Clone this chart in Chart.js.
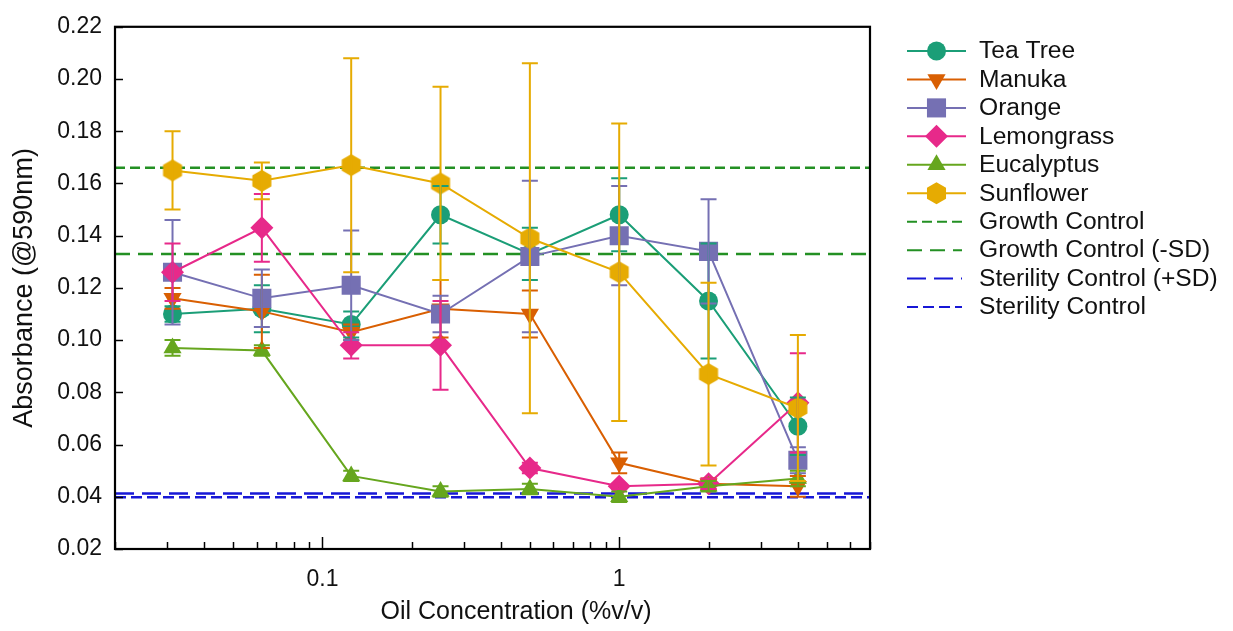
<!DOCTYPE html>
<html><head><meta charset="utf-8">
<script src="https://cdn.jsdelivr.net/npm/chart.js@4/dist/chart.umd.min.js"></script>
<style>html,body{margin:0;padding:0;background:#fff;}#wrap{width:1233px;height:631px;position:relative;}</style>
</head><body><div id="wrap"><canvas id="c" width="1233" height="631"></canvas></div>
<script>
// ---- data ----
const concentrations = [0.03125, 0.0625, 0.125, 0.25, 0.5, 1, 2, 4];
const teaTree      = [0.110, 0.112, 0.106, 0.148, 0.133, 0.148, 0.115, 0.067];
const teaTreeSD    = [0.003, 0.009, 0.005, 0.011, 0.010, 0.014, 0.022, 0.011];
const manuka       = [0.116, 0.111, 0.103, 0.112, 0.110, 0.053, 0.045, 0.044];
const manukaSD     = [0.004, 0.014, 0.003, 0.011, 0.009, 0.004, 0.002, 0.004];
const orange       = [0.126, 0.116, 0.121, 0.110, 0.132, 0.140, 0.134, 0.054];
const orangeSD     = [0.020, 0.011, 0.021, 0.007, 0.029, 0.019, 0.020, 0.005];
const lemongrass   = [0.126, 0.143, 0.098, 0.098, 0.051, 0.044, 0.045, 0.076];
const lemongrassSD = [0.011, 0.013, 0.005, 0.017, 0.002, 0.001, 0.002, 0.019];
const eucalyptus   = [0.097, 0.096, 0.048, 0.042, 0.043, 0.040, 0.044, 0.047];
const eucalyptusSD = [0.003, 0.002, 0.002, 0.002, 0.002, 0.002, 0.002, 0.003];
const sunflower    = [0.165, 0.161, 0.167, 0.160, 0.139, 0.126, 0.087, 0.074];
const sunflowerSD  = [0.015, 0.007, 0.041, 0.037, 0.067, 0.057, 0.035, 0.028];
const growthControl = 0.166;
const growthControlMinusSD = 0.133;
const sterilityControlPlusSD = 0.0413;
const sterilityControl = 0.0398;
const xRange = [0.02, 7];
const yRange = [0.02, 0.22];
const yTickValues = [0.02, 0.04, 0.06, 0.08, 0.10, 0.12, 0.14, 0.16, 0.18, 0.20, 0.22];
const xTickValues = [0.02,0.03,0.04,0.05,0.06,0.07,0.08,0.09,0.1,0.2,0.3,0.4,0.5,0.6,0.7,0.8,0.9,1,2,3,4,5,6,7];
const xLabelValues = [0.1, 1];
const xTickLabels = ['0.1', '1'];
const xTitle = 'Oil Concentration (%v/v)';
const yTitle = 'Absorbance (@590nm)';

// ---- styles ----
const FONT = "'Liberation Sans', Arial, sans-serif";
Chart.defaults.font.family = FONT;
Chart.defaults.color = '#111';

function hexagonImage(color, r) {
  const s = Math.ceil(r * 2 + 2);
  const cv = document.createElement('canvas');
  cv.width = s; cv.height = s;
  const g = cv.getContext('2d');
  g.fillStyle = color;
  g.beginPath();
  for (let k = 0; k < 6; k++) {
    const a = -Math.PI / 2 + k * Math.PI / 3;
    const px = s / 2 + r * Math.cos(a), py = s / 2 + r * Math.sin(a);
    k ? g.lineTo(px, py) : g.moveTo(px, py);
  }
  g.closePath(); g.fill();
  return cv;
}

const seriesDefs = [
  {label: 'Tea Tree',   values: teaTree,    sd: teaTreeSD,    color: '#1b9e77', style: 'circle',   radius: 9.5, rotation: 0},
  {label: 'Manuka',     values: manuka,     sd: manukaSD,     color: '#d95f02', style: 'triangle', radius: 10.5, rotation: 180},
  {label: 'Orange',     values: orange,     sd: orangeSD,     color: '#7570b3', style: 'rect',     radius: 13.5, rotation: 0},
  {label: 'Lemongrass', values: lemongrass, sd: lemongrassSD, color: '#e7298a', style: 'rectRot',  radius: 11.5, rotation: 0},
  {label: 'Eucalyptus', values: eucalyptus, sd: eucalyptusSD, color: '#66a61e', style: 'triangle', radius: 10.5, rotation: 0},
  {label: 'Sunflower',  values: sunflower,  sd: sunflowerSD,  color: '#e6ab02', style: 'hexagon',  radius: 11, rotation: 0}
];
const controlDefs = [
  {label: 'Growth Control',          value: growthControl,          color: '#239023', dash: [10, 5]},
  {label: 'Growth Control (-SD)',    value: growthControlMinusSD,   color: '#239023', dash: [15, 8]},
  {label: 'Sterility Control (+SD)', value: sterilityControlPlusSD, color: '#1717d6', dash: [19, 8]},
  {label: 'Sterility Control',       value: sterilityControl,       color: '#1717d6', dash: [11, 5]}
];

const datasets = [];
seriesDefs.forEach((s, i) => {
  const ps = s.style === 'hexagon' ? hexagonImage(s.color, s.radius) : s.style;
  datasets.push({
    label: s.label,
    data: concentrations.map((x, j) => ({x: x, y: s.values[j]})),
    borderColor: s.color, backgroundColor: s.color,
    borderWidth: 2, tension: 0, fill: false,
    pointStyle: ps, pointRadius: s.radius, pointRotation: s.rotation,
    pointBackgroundColor: s.color, pointBorderWidth: 0, pointHoverRadius: s.radius,
    order: 10 - i
  });
});
controlDefs.forEach(c => {
  datasets.push({
    label: c.label,
    data: [{x: xRange[0], y: c.value}, {x: xRange[1], y: c.value}],
    borderColor: c.color, borderWidth: 2.5, borderDash: c.dash,
    pointRadius: 0, fill: false, order: 20
  });
});

const errorBarPlugin = {
  id: 'errorBars',
  afterDatasetsDraw(chart) {
    const ctx = chart.ctx, xs = chart.scales.x, ys = chart.scales.y;
    ctx.save();
    ctx.beginPath();
    ctx.rect(chart.chartArea.left, chart.chartArea.top, chart.chartArea.width, chart.chartArea.height);
    ctx.clip();
    seriesDefs.forEach(s => {
      ctx.strokeStyle = s.color; ctx.lineWidth = 2;
      concentrations.forEach((x, j) => {
        const px = xs.getPixelForValue(x);
        const yt = ys.getPixelForValue(s.values[j] + s.sd[j]);
        const yb = ys.getPixelForValue(s.values[j] - s.sd[j]);
        ctx.beginPath();
        ctx.moveTo(px, yt); ctx.lineTo(px, yb);
        ctx.moveTo(px - 8, yt); ctx.lineTo(px + 8, yt);
        ctx.moveTo(px - 8, yb); ctx.lineTo(px + 8, yb);
        ctx.stroke();
      });
    });
    ctx.restore();
  }
};

const frameTicksPlugin = {
  id: 'frameTicks',
  afterDraw(chart) {
    const ctx = chart.ctx, a = chart.chartArea, xs = chart.scales.x, ys = chart.scales.y;
    ctx.save();
    ctx.strokeStyle = '#000';
    ctx.lineWidth = 1.5;
    ys.ticks.forEach(t => {
      const py = Math.round(ys.getPixelForValue(t.value)) + 0.5;
      ctx.beginPath(); ctx.moveTo(a.left, py); ctx.lineTo(a.left + 8, py); ctx.stroke();
    });
    xs.ticks.forEach(t => {
      const px = Math.round(xs.getPixelForValue(t.value)) + 0.5;
      const len = xLabelValues.includes(t.value) ? 12 : 7;
      ctx.beginPath(); ctx.moveTo(px, a.bottom); ctx.lineTo(px, a.bottom - len); ctx.stroke();
    });
    ctx.lineWidth = 2.2;
    ctx.strokeRect(a.left, a.top, a.right - a.left, a.bottom - a.top);
    // x-axis title (placed as in the reference, right of the plot centre)
    ctx.fillStyle = '#111';
    ctx.font = "25px " + FONT;
    ctx.textAlign = 'center';
    ctx.textBaseline = 'middle';
    ctx.fillText(xTitle, 516, 612);
    ctx.restore();
  }
};

function drawMarker(ctx, s, x, y) {
  ctx.fillStyle = s.color;
  const r = s.radius;
  ctx.beginPath();
  if (s.style === 'circle') {
    ctx.arc(x, y, r, 0, Math.PI * 2);
  } else if (s.style === 'triangle') {
    const rot = s.rotation * Math.PI / 180;
    for (let k = 0; k < 3; k++) {
      const ang = rot + k * 2 * Math.PI / 3;
      const px = x + Math.sin(ang) * r, py = y - Math.cos(ang) * r;
      k ? ctx.lineTo(px, py) : ctx.moveTo(px, py);
    }
  } else if (s.style === 'rect') {
    const h = Math.SQRT1_2 * r;
    ctx.rect(x - h, y - h, 2 * h, 2 * h);
  } else if (s.style === 'rectRot') {
    ctx.moveTo(x - r, y); ctx.lineTo(x, y - r); ctx.lineTo(x + r, y); ctx.lineTo(x, y + r);
  } else if (s.style === 'hexagon') {
    for (let k = 0; k < 6; k++) {
      const ang = -Math.PI / 2 + k * Math.PI / 3;
      const px = x + r * Math.cos(ang), py = y + r * Math.sin(ang);
      k ? ctx.lineTo(px, py) : ctx.moveTo(px, py);
    }
  }
  ctx.closePath(); ctx.fill();
}

const legendPlugin = {
  id: 'sideLegend',
  afterDraw(chart) {
    const ctx = chart.ctx;
    const x0 = 907, x1 = 966, xt = 979, y0 = 51, step = 28.45;
    ctx.save();
    ctx.font = "23px " + FONT;
    ctx.textBaseline = 'middle';
    ctx.textAlign = 'left';
    let row = 0;
    seriesDefs.forEach(s => {
      const y = y0 + row * step;
      ctx.strokeStyle = s.color; ctx.lineWidth = 2; ctx.setLineDash([]);
      ctx.beginPath(); ctx.moveTo(x0, y); ctx.lineTo(x1, y); ctx.stroke();
      drawMarker(ctx, s, (x0 + x1) / 2, y);
      ctx.fillStyle = '#111';
      ctx.save(); ctx.translate(xt, y + 1); ctx.scale(1.07, 1); ctx.fillText(s.label, 0, 0); ctx.restore();
      row++;
    });
    controlDefs.forEach(c => {
      const y = y0 + row * step;
      ctx.strokeStyle = c.color; ctx.lineWidth = 2; ctx.setLineDash(c.dash);
      ctx.beginPath(); ctx.moveTo(x0, y); ctx.lineTo(x1 - 4, y); ctx.stroke();
      ctx.setLineDash([]);
      ctx.fillStyle = '#111';
      ctx.save(); ctx.translate(xt, y + 1); ctx.scale(1.07, 1); ctx.fillText(c.label, 0, 0); ctx.restore();
      row++;
    });
    ctx.restore();
  }
};

new Chart(document.getElementById('c'), {
  type: 'line',
  data: {datasets: datasets},
  options: {
    responsive: false, animation: false, devicePixelRatio: 1,
    layout: {padding: {left: 0, top: 23, right: 363, bottom: 0}},
    plugins: {legend: {display: false}, tooltip: {enabled: false}},
    scales: {
      x: {
        type: 'logarithmic', min: xRange[0], max: xRange[1],
        grid: {display: false, drawTicks: false}, border: {display: false},
        afterBuildTicks: s => { s.ticks = xTickValues.map(v => ({value: v})); },
        afterFit: s => { s.height = 82; },
        ticks: {
          autoSkip: false, maxRotation: 0, padding: 17, color: '#111',
          font: {size: 23, family: FONT},
          callback: v => { const k = xLabelValues.indexOf(v); return k >= 0 ? xTickLabels[k] : ''; }
        },
        title: {display: false}
      },
      y: {
        type: 'linear', min: yRange[0], max: yRange[1],
        grid: {display: false, drawTicks: false}, border: {display: false},
        afterBuildTicks: s => { s.ticks = yTickValues.map(v => ({value: v})); },
        afterFit: s => { s.width = 115; },
        ticks: {padding: 13, color: '#111', font: {size: 23, family: FONT},
                callback: v => v.toFixed(2)},
        title: {display: true, text: yTitle, color: '#111',
                font: {size: 27, family: FONT}, padding: {top: 8, bottom: 0}}
      }
    }
  },
  plugins: [errorBarPlugin, frameTicksPlugin, legendPlugin]
});
</script></body></html>
